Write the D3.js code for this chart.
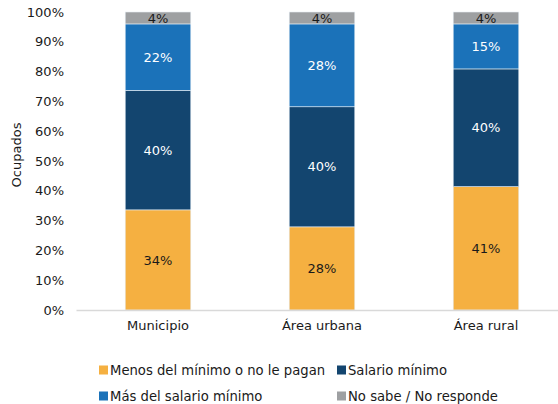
<!DOCTYPE html>
<html>
<head>
<meta charset="utf-8">
<script src="https://cdn.jsdelivr.net/npm/d3@7"></script>
<style>
  body { margin: 0; background: #fff; }
  text { font-family: "DejaVu Sans", sans-serif; fill: #1a1a1a; }
</style>
</head>
<body>
<div id="chart"></div>
<script>
//categories and series (percent of ocupados)
var categories = ["Municipio", "Área urbana", "Área rural"];
var menosMinimo = [33.6, 27.9, 41.4];
var salarioMinimo = [40.1, 40.3, 39.5];
var masMinimo = [22.3, 27.8, 15.1];
var noSabe = [4.0, 4.0, 4.0];
var yTicks = [0, 10, 20, 30, 40, 50, 60, 70, 80, 90, 100];

var seriesNames = ["Menos del mínimo o no le pagan", "Salario mínimo", "Más del salario mínimo", "No sabe / No responde"];
var seriesColors = ["#F5B041", "#13456F", "#1B72B9", "#9EA0A2"];
var labelColors = ["#1a1a1a", "#ffffff", "#ffffff", "#1a1a1a"];
var seriesValues = [menosMinimo, salarioMinimo, masMinimo, noSabe];

var width = 558, height = 404;

var svg = d3.select("#chart").append("svg")
	.attr("width", width)
	.attr("height", height);

//scales
var x = d3.scaleBand()
	.domain(categories)
	.range([76, 568])
	.paddingInner(0.6)
	.paddingOuter(0.3);

var y = d3.scaleLinear()
	.domain([0, 100])
	.range([310, 12]);

//build rows for the stack
var rows = categories.map(function(c, i) {
	var r = { cat: c };
	seriesNames.forEach(function(s, j) { r[s] = seriesValues[j][i]; });
	return r;
});
var stacked = d3.stack().keys(seriesNames)(rows);

//y axis (labels only)
var yAxis = svg.append("g")
	.attr("transform", "translate(64,0)")
	.call(d3.axisLeft(y).tickValues(yTicks).tickSize(0).tickPadding(0)
		.tickFormat(function(d) { return d + "%"; }));
yAxis.select(".domain").remove();
yAxis.selectAll("text").style("font-size", "13px").attr("font-family", null);

//bars
var groups = svg.selectAll(".serie")
	.data(stacked)
	.enter().append("g")
	.attr("class", "serie")
	.attr("fill", function(d, i) { return seriesColors[i]; });

groups.selectAll("rect")
	.data(function(d) { return d; })
	.enter().append("rect")
	.attr("x", function(d) { return x(d.data.cat); })
	.attr("y", function(d) { return y(d[1]); })
	.attr("width", x.bandwidth())
	.attr("height", function(d) { return y(d[0]) - y(d[1]); })
	.attr("stroke", "#e6eef5")
	.attr("stroke-width", 0.6);

//value labels
stacked.forEach(function(s, i) {
	svg.append("g").selectAll("text")
		.data(s)
		.enter().append("text")
		.attr("x", function(d) { return x(d.data.cat) + x.bandwidth() / 2; })
		.attr("y", function(d) { return (y(d[0]) + y(d[1])) / 2; })
		.attr("dy", "0.36em")
		.attr("text-anchor", "middle")
		.style("font-size", "13px")
		.style("fill", labelColors[i])
		.text(function(d) { return Math.round(d[1] - d[0]) + "%"; });
});

//x axis
var xAxis = svg.append("g")
	.attr("transform", "translate(0,310)")
	.call(d3.axisBottom(x).tickSize(0).tickPadding(11));
xAxis.select(".domain").attr("stroke", "#d9d9d9").attr("stroke-width", 1.5);
xAxis.selectAll("text").style("font-size", "13px").attr("font-family", null);

//y axis title
svg.append("text")
	.attr("transform", "translate(21,155) rotate(-90)")
	.attr("text-anchor", "middle")
	.style("font-size", "13px")
	.text("Ocupados");

//legend
var legendPos = [[99, 370], [337, 370], [99, 396], [337, 396]];
var legend = svg.selectAll(".legend")
	.data(seriesNames)
	.enter().append("g")
	.attr("class", "legend")
	.attr("transform", function(d, i) { return "translate(" + legendPos[i][0] + "," + legendPos[i][1] + ")"; });
legend.append("rect")
	.attr("x", 0).attr("y", -4.5)
	.attr("width", 9).attr("height", 9)
	.attr("fill", function(d, i) { return seriesColors[i]; });
legend.append("text")
	.attr("x", 11)
	.attr("dy", "0.36em")
	.style("font-size", "13.2px")
	.text(function(d) { return d; });
</script>
</body>
</html>
